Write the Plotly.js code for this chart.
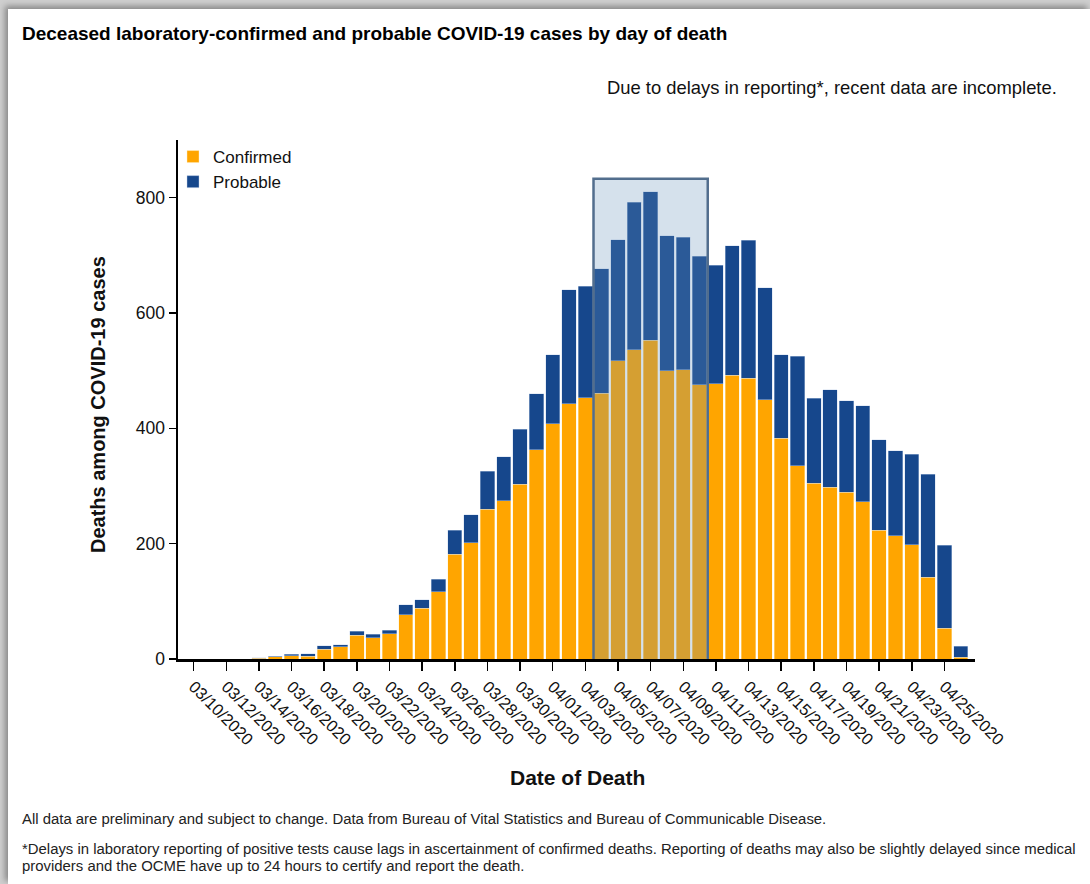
<!DOCTYPE html>
<html>
<head>
<meta charset="utf-8">
<script src="https://cdn.plot.ly/plotly-3.0.1.min.js"></script>
<style>
  html, body { margin: 0; padding: 0; width: 1090px; height: 884px; overflow: hidden; background: #cfcfcf; }
  #frame { position: absolute; left: 8px; top: 9px; width: 1082px; height: 875px; background: #ffffff;
           box-shadow: -3px -3px 6px rgba(0,0,0,0.35); }
  #chart { position: absolute; left: 0; top: 0; width: 1090px; height: 884px; }
</style>
</head>
<body>
<div id="frame"></div>
<div id="chart"></div>
<script>
const dates = [
  "2020-03-10","2020-03-11","2020-03-12","2020-03-13","2020-03-14","2020-03-15","2020-03-16","2020-03-17",
  "2020-03-18","2020-03-19","2020-03-20","2020-03-21","2020-03-22","2020-03-23","2020-03-24","2020-03-25",
  "2020-03-26","2020-03-27","2020-03-28","2020-03-29","2020-03-30","2020-03-31","2020-04-01","2020-04-02",
  "2020-04-03","2020-04-04","2020-04-05","2020-04-06","2020-04-07","2020-04-08","2020-04-09","2020-04-10",
  "2020-04-11","2020-04-12","2020-04-13","2020-04-14","2020-04-15","2020-04-16","2020-04-17","2020-04-18",
  "2020-04-19","2020-04-20","2020-04-21","2020-04-22","2020-04-23","2020-04-24","2020-04-25","2020-04-26"
];
const confirmed = [
  0,0,0,0,1,4,6,5,
  17,21,41,37,44,77,88,117,
  182,202,260,274,303,363,408,443,
  453,461,517,536,553,500,502,476,
  477,492,487,450,383,335,305,298,
  289,273,223,214,198,142,53,3
];
const probable = [
  0,0,0,0,1,1,2,4,
  6,4,7,6,6,17,15,21,
  41,48,66,77,95,97,120,197,
  193,216,210,256,257,234,229,222,
  206,225,239,194,145,190,147,169,
  159,166,157,147,157,178,144,19
];
const seriesNames = ["Confirmed", "Probable"];
const highlightStart = "2020-04-04";
const highlightEnd = "2020-04-10";

const titleText = "Deceased laboratory-confirmed and probable COVID-19 cases by day of death";
const subtitleText = "Due to delays in reporting*, recent data are incomplete.";
const yTitle = "Deaths among COVID-19 cases";
const xTitle = "Date of Death";
const note1 = "All data are preliminary and subject to change. Data from Bureau of Vital Statistics and Bureau of Communicable Disease.";
const note2a = "*Delays in laboratory reporting of positive tests cause lags in ascertainment of confirmed deaths. Reporting of deaths may also be slightly delayed since medical";
const note2b = "providers and the OCME have up to 24 hours to certify and report the death.";

const FONT = "Arial, 'Liberation Sans', sans-serif";
const W = 1090, H = 884;
const mL = 178, mR = 115, mT = 140, mB = 225;
const px2x = p => (p - mL) / (W - mL - mR);
const px2y = p => (H - mB - p) / (H - mT - mB);

function shiftDate(d, hours) {
  const t = new Date(d + "T00:00:00Z").getTime() + hours * 3600000;
  return new Date(t).toISOString().slice(0, 19).replace("T", " ");
}

const traces = [
  { type: "bar", name: seriesNames[0], x: dates, y: confirmed,
    marker: { color: "#FFA500", line: { color: "rgba(255,240,200,0.7)", width: 0.6 } },
    hoverinfo: "x+y+name" },
  { type: "bar", name: seriesNames[1], x: dates, y: probable,
    marker: { color: "#16478C", line: { color: "rgba(200,215,235,0.7)", width: 0.6 } },
    hoverinfo: "x+y+name" }
];

const noteFont = { family: FONT, size: 14.9, color: "#222" };

const layout = {
  width: W, height: H,
  margin: { l: mL, r: mR, t: mT, b: mB, pad: 0 },
  paper_bgcolor: "rgba(0,0,0,0)",
  plot_bgcolor: "rgba(0,0,0,0)",
  font: { family: FONT, color: "#111", size: 17 },
  barmode: "stack",
  bargap: 0.12,
  showlegend: true,
  legend: { x: px2x(173), xanchor: "left", y: px2y(139), yanchor: "top",
            traceorder: "normal", font: { size: 17, color: "#111", family: FONT },
            bgcolor: "rgba(0,0,0,0)", itemwidth: 30, tracegroupgap: 0 },
  title: { text: "<b>" + titleText + "</b>", x: 22 / W, xanchor: "left", xref: "container",
           y: 1 - 33 / H, yanchor: "middle", yref: "container",
           font: { family: FONT, size: 19, color: "#000" } },
  xaxis: {
    type: "date",
    range: [shiftDate(dates[0], -23), shiftDate(dates[dates.length - 1], 21)],
    tick0: dates[0], dtick: 2 * 86400000,
    tickformat: "%m/%d/%Y", tickangle: 45,
    ticks: "outside", ticklen: 9, tickwidth: 1.5, tickcolor: "#000",
    showline: true, linecolor: "#000", linewidth: 2.5,
    showgrid: false, zeroline: false,
    tickfont: { family: FONT, size: 16.5, color: "#111" }
  },
  yaxis: {
    range: [0, 900],
    tickvals: [0, 200, 400, 600, 800],
    ticks: "outside", ticklen: 7, tickwidth: 1.5, tickcolor: "#000",
    showline: true, linecolor: "#000", linewidth: 2.5,
    showgrid: false, zeroline: false,
    tickfont: { family: FONT, size: 17.5, color: "#111" }
  },
  shapes: [
    { type: "rect", xref: "x", yref: "y", layer: "above",
      x0: shiftDate(highlightStart, -12), x1: shiftDate(highlightEnd, 12),
      y0: -10, y1: 833,
      fillcolor: "rgba(100,145,185,0.27)",
      line: { color: "rgba(65,95,130,0.9)", width: 2.5 } }
  ],
  annotations: [
    { text: subtitleText, xref: "paper", yref: "paper", x: px2x(1059), y: px2y(88),
      xanchor: "right", yanchor: "middle", showarrow: false,
      font: { family: FONT, size: 18.4, color: "#111" } },
    { text: "<b>" + yTitle + "</b>", xref: "paper", yref: "paper", x: px2x(98), y: px2y(405),
      xanchor: "center", yanchor: "middle", textangle: -90, showarrow: false,
      font: { family: FONT, size: 20, color: "#111" } },
    { text: "<b>" + xTitle + "</b>", xref: "paper", yref: "paper", x: px2x(577), y: px2y(777),
      xanchor: "center", yanchor: "middle", showarrow: false,
      font: { family: FONT, size: 21, color: "#111" } },
    { text: note1, xref: "paper", yref: "paper", x: px2x(20), y: px2y(819),
      xanchor: "left", yanchor: "middle", showarrow: false, align: "left", font: noteFont },
    { text: note2a, xref: "paper", yref: "paper", x: px2x(20), y: px2y(849),
      xanchor: "left", yanchor: "middle", showarrow: false, align: "left", font: noteFont },
    { text: note2b, xref: "paper", yref: "paper", x: px2x(20), y: px2y(866),
      xanchor: "left", yanchor: "middle", showarrow: false, align: "left", font: noteFont }
  ]
};

Plotly.newPlot("chart", traces, layout, { displayModeBar: false, staticPlot: true });
</script>
</body>
</html>
